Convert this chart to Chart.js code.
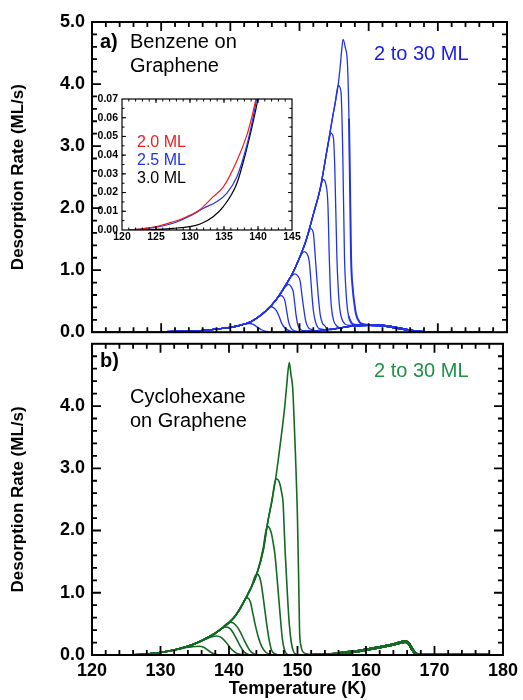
<!DOCTYPE html>
<html>
<head>
<meta charset="utf-8">
<script src="https://cdn.jsdelivr.net/npm/chart.js@4.4.1/dist/chart.umd.min.js"></script>
<style>
  body { margin: 0; background: #fff; overflow: hidden; }
  canvas { position: absolute; left: 0; }
</style>
</head>
<body>
<canvas id="top" width="523" height="350" style="top:0"></canvas>
<canvas id="bottom" width="523" height="374" style="top:326px"></canvas>
<canvas id="inset" width="225" height="160" style="left:80px;top:88px"></canvas>
<script>
// ---- benzene (panel a): common leading edge, each coverage's fall-off, monolayer tail
const benzeneEdgeT = [120, 124, 126, 128, 130, 132, 134, 136, 138, 139.5, 141, 142, 143, 144, 145, 146, 147, 148, 149, 150, 151, 152, 153, 154, 155, 155.6, 156.3];
const benzeneEdgeRate = [0, 0, 0.002, 0.005, 0.009, 0.013, 0.02, 0.03, 0.05, 0.07, 0.10, 0.13, 0.17, 0.24, 0.33, 0.44, 0.58, 0.76, 0.95, 1.2, 1.5, 1.9, 2.32, 2.95, 3.6, 3.99, 4.72];
const benzeneFalls = [
  [[141.6,0.115],[142.3,0.135],[142.8,0.14],[143.3,0.125],[144.0,0.074],[144.5,0.04],[145.0,0.018],[145.6,0.005],[146.5,0.002]],
  [[145.0,0.33],[145.5,0.39],[145.9,0.41],[146.3,0.39],[146.7,0.34],[147.1,0.24],[147.4,0.15],[147.8,0.08],[148.1,0.05],[148.6,0.02],[149.2,0.01]],
  [[146.6,0.52],[147.0,0.57],[147.35,0.59],[147.7,0.56],[147.9,0.5],[148.15,0.34],[148.4,0.18],[148.7,0.08],[149.1,0.03],[149.6,0.015]],
  [[147.7,0.70],[148.1,0.75],[148.45,0.77],[148.8,0.73],[149.1,0.65],[149.3,0.47],[149.5,0.28],[149.75,0.12],[150.1,0.05],[150.6,0.025]],
  [[148.6,0.87],[149.0,0.92],[149.35,0.94],[149.8,0.9],[150.1,0.82],[150.35,0.6],[150.6,0.39],[150.9,0.18],[151.3,0.07],[151.8,0.04]],
  [[149.9,1.17],[150.3,1.26],[150.7,1.30],[151.1,1.26],[151.4,1.15],[151.6,0.9],[151.8,0.6],[152.0,0.35],[152.3,0.17],[152.7,0.07],[153.2,0.05]],
  [[150.9,1.45],[151.3,1.6],[151.6,1.67],[152.0,1.60],[152.2,1.34],[152.45,0.95],[152.7,0.6],[153.0,0.28],[153.3,0.15],[153.7,0.1]],
  [[152.8,2.22],[153.2,2.4],[153.45,2.46],[153.8,2.39],[154.1,2.08],[154.3,1.23],[154.45,0.7],[154.6,0.42],[154.9,0.2],[155.4,0.1]],
  [[154.0,2.95],[154.3,3.12],[154.55,3.21],[154.9,3.13],[155.1,2.66],[155.4,1.23],[155.6,0.7],[155.8,0.4],[156.1,0.22],[156.6,0.13],[157.2,0.11]],
  [[155.1,3.65],[155.4,3.88],[155.6,3.98],[156.0,3.87],[156.25,2.92],[156.5,1.23],[156.7,0.7],[156.9,0.4],[157.1,0.26],[157.5,0.15],[158.0,0.12]],
  [[155.9,4.3],[156.1,4.55],[156.3,4.72],[156.6,4.6],[156.95,4.29],[157.15,3.45],[157.3,2.39],[157.45,1.23],[157.7,0.7],[157.95,0.45],[158.2,0.28],[158.7,0.16],[159.3,0.13]]
];
const benzeneTailT = [146, 148, 150, 152, 154, 156, 158, 160, 161.5, 162.5, 163.5, 164.5, 165.5, 166.5, 167.5, 168.5, 178];
const benzeneTailRate = [0, 0.004, 0.01, 0.02, 0.04, 0.07, 0.105, 0.115, 0.11, 0.1, 0.08, 0.06, 0.04, 0.02, 0.006, 0, 0];

// ---- cyclohexane (panel b)
const cycloEdgeT = [120, 124, 126, 128, 130, 132, 134, 136, 138, 139, 140, 141, 142, 143, 144, 145, 145.6, 146.3, 146.9, 147.5, 148.1, 148.8];
const cycloEdgeRate = [0, 0, 0.003, 0.015, 0.04, 0.08, 0.14, 0.23, 0.35, 0.43, 0.52, 0.64, 0.82, 1.03, 1.28, 1.68, 2.1, 2.5, 2.9, 3.4, 3.95, 4.70];
const cycloFalls = [
  [[133.2,0.11],[134.5,0.13],[135.6,0.14],[136.3,0.125],[136.9,0.08],[137.4,0.04],[138.0,0.01],[139.0,0]],
  [[136.5,0.25],[137.4,0.29],[138.2,0.305],[138.9,0.28],[139.6,0.2],[140.3,0.1],[141.0,0.035],[141.6,0.01],[142.5,0]],
  [[138.5,0.39],[139.1,0.44],[139.6,0.45],[140.2,0.42],[140.9,0.3],[141.6,0.15],[142.2,0.05],[142.8,0.01],[143.5,0]],
  [[139.3,0.47],[139.8,0.51],[140.25,0.525],[140.9,0.49],[141.6,0.38],[142.3,0.22],[143.0,0.08],[143.6,0.02],[144.3,0]],
  [[141.7,0.75],[142.2,0.87],[142.6,0.92],[143.1,0.86],[143.5,0.66],[143.8,0.5],[144.3,0.28],[144.8,0.13],[145.4,0.04],[146.0,0.01],[146.6,0]],
  [[143.3,1.1],[143.7,1.24],[144.1,1.30],[144.5,1.24],[144.8,1.08],[145.2,0.75],[145.5,0.5],[145.85,0.25],[146.2,0.08],[146.7,0.02],[147.3,0]],
  [[145.0,1.72],[145.35,1.97],[145.65,2.07],[145.95,2.03],[146.2,1.95],[146.45,1.8],[146.7,1.62],[147.1,1.13],[147.5,0.6],[147.8,0.25],[148.1,0.08],[148.5,0.01],[149.0,0]],
  [[146.3,2.5],[146.65,2.75],[146.9,2.83],[147.2,2.81],[147.45,2.74],[147.7,2.6],[147.9,2.44],[148.05,2.05],[148.2,1.66],[148.5,1.03],[148.8,0.5],[149.1,0.2],[149.4,0.06],[149.8,0.01],[150.3,0]],
  [[148.4,4.3],[148.8,4.70],[149.05,4.5],[149.3,4.29],[149.5,3.8],[149.7,3.23],[150.0,2.18],[150.2,1.03],[150.3,0.4],[150.5,0.15],[150.8,0.05],[151.3,0.02],[152.0,0.01]]
];
const cycloTailT = [150, 152, 154, 156, 158, 160, 162, 164, 165.7, 166.2, 166.7, 167.1, 167.5, 168, 178];
const cycloTailRate = [0, 0.005, 0.012, 0.028, 0.05, 0.085, 0.125, 0.17, 0.215, 0.19, 0.1, 0.04, 0.01, 0, 0];

// ---- inset: low temperature onset
const insetT20 = [121, 122, 125.1, 127.5, 129.5, 131.5, 133.4, 134.9, 136.9, 138.3, 139.1, 139.7, 140.3];
const insetRate20 = [0, 0.0003, 0.0018, 0.0044, 0.0071, 0.011, 0.0178, 0.023, 0.037, 0.050, 0.0605, 0.07, 0.08];
const insetT25 = [121, 122, 125, 127.5, 130, 132, 133.9, 135.4, 136.9, 138.3, 139.3, 139.8, 140.4];
const insetRate25 = [0, 0.0003, 0.0015, 0.0036, 0.0075, 0.0116, 0.0151, 0.0196, 0.0285, 0.0445, 0.0605, 0.07, 0.08];
const insetT30 = [121, 122, 125, 127.5, 130, 131.5, 133.4, 134.9, 136.9, 138.3, 139.3, 140.0, 140.5];
const insetRate30 = [0, 0, 0.0003, 0.0009, 0.0018, 0.0032, 0.0071, 0.0125, 0.025, 0.0428, 0.058, 0.07, 0.08];

const FONT = "'Liberation Sans', Arial, Helvetica, sans-serif";
Chart.defaults.font.family = FONT;
Chart.defaults.color = '#000';

const BLUE = '#2233e6', GREEN = '#136a22';

function joinCurve(edgeT, edgeR, fall, tailT, tailR) {
  const pts = [];
  const start = fall[0][0], end = fall[fall.length - 1][0];
  edgeT.forEach((t, i) => { if (t < start) pts.push({x: t, y: edgeR[i]}); });
  fall.forEach(p => pts.push({x: p[0], y: p[1]}));
  tailT.forEach((t, i) => { if (t > end) pts.push({x: t, y: tailR[i]}); });
  return pts;
}

function pairs(ts, rs) {
  return ts.map((t, i) => ({x: t, y: rs[i]}));
}

function lineSet(points, color, width, bandFrom, bandWidth) {
  return {
    data: points, borderColor: color, borderWidth: width,
    pointRadius: 0, fill: false, cubicInterpolationMode: 'monotone',
    segment: { borderWidth: c => c.p0.parsed.x >= bandFrom ? bandWidth : width }
  };
}

// tick values for one axis, from lo to hi in steps
function tickValues(lo, hi, step) {
  const out = [];
  const n = Math.round((hi - lo) / step);
  for (let i = 1; i < n; i++) out.push(lo + i * step);
  return out;
}

// frame + inward ticks on all four sides
function makeFrame(o) {
  return {
    id: 'frameTicks',
    afterDraw(chart) {
      const ctx = chart.ctx;
      const a = chart.chartArea;
      const xs = chart.scales.x, ys = chart.scales.y;
      ctx.save();
      ctx.strokeStyle = '#000';
      ctx.lineWidth = o.tickWidth;
      ctx.beginPath();
      [[o.xMinor, o.minorLen], [o.xMajor, o.majorLen]].forEach(([step, len]) => {
        tickValues(o.x[0], o.x[1], step).forEach(v => {
          const p = xs.getPixelForValue(v);
          ctx.moveTo(p, a.bottom); ctx.lineTo(p, a.bottom - len);
          ctx.moveTo(p, a.top); ctx.lineTo(p, a.top + len);
        });
      });
      [[o.yMinor, o.minorLen], [o.yMajor, o.majorLen]].forEach(([step, len]) => {
        tickValues(o.y[0], o.y[1], step).forEach(v => {
          const p = ys.getPixelForValue(v);
          ctx.moveTo(a.left, p); ctx.lineTo(a.left + len, p);
          ctx.moveTo(a.right, p); ctx.lineTo(a.right - len, p);
        });
      });
      ctx.stroke();
      ctx.lineWidth = o.frameWidth;
      ctx.strokeRect(a.left, a.top, a.right - a.left, a.bottom - a.top);
      ctx.restore();
    }
  };
}

function makeNotes(items) {
  return {
    id: 'notes',
    afterDraw(chart) {
      const ctx = chart.ctx;
      ctx.save();
      ctx.textBaseline = 'alphabetic';
      items.forEach(n => {
        ctx.font = (n.bold ? 'bold ' : '') + n.size + 'px ' + FONT;
        ctx.fillStyle = n.color || '#000';
        ctx.fillText(n.text, n.x, n.y);
      });
      ctx.restore();
    }
  };
}

const whiteArea = {
  id: 'whiteArea',
  beforeDraw(chart) {
    const {ctx, chartArea: a} = chart;
    ctx.save();
    ctx.fillStyle = '#fff';
    ctx.fillRect(a.left, a.top, a.width, a.height);
    ctx.restore();
  }
};

function yAxis(hideTop) {
  return {
    min: 0, max: 5,
    afterFit: s => { s.width = 92; },
    grid: {display: false, drawTicks: false},
    border: {display: false},
    ticks: {
      stepSize: 1, padding: 7, autoSkip: false,
      font: {size: 18, weight: 'bold'},
      callback: v => (hideTop && v === 5) ? '' : v.toFixed(1)
    },
    title: {
      display: true, text: 'Desorption Rate (ML/s)',
      font: {size: 17, weight: 'bold'}, padding: {top: 8, bottom: 0}
    }
  };
}

const mainFrame = {x: [120, 180], y: [0, 5], xMajor: 10, xMinor: 2, yMajor: 1, yMinor: 0.2, majorLen: 9, minorLen: 5, tickWidth: 1.8, frameWidth: 2};
const common = {
  responsive: false, animation: false, events: [],
  elements: {point: {radius: 0}}
};

new Chart(document.getElementById('top'), {
  type: 'line',
  data: {
    datasets: benzeneFalls.map(f =>
      lineSet(joinCurve(benzeneEdgeT, benzeneEdgeRate, f, benzeneTailT, benzeneTailRate), BLUE, 1.3, 157, 2))
  },
  options: Object.assign({}, common, {
    layout: {padding: {top: 22, right: 16, bottom: 12, left: 0}},
    scales: {
      x: {type: 'linear', min: 120, max: 180, display: false},
      y: yAxis(false)
    },
    plugins: {legend: {display: false}, tooltip: {enabled: false}}
  }),
  plugins: [makeFrame(mainFrame), makeNotes([
    {text: 'a)', x: 100, y: 48, size: 20, bold: true},
    {text: 'Benzene on', x: 130, y: 48, size: 20},
    {text: 'Graphene', x: 130, y: 72, size: 20},
    {text: '2 to 30 ML', x: 374, y: 60, size: 20, color: '#1a1aee'}
  ])]
});

new Chart(document.getElementById('bottom'), {
  type: 'line',
  data: {
    datasets: cycloFalls.map(f =>
      lineSet(joinCurve(cycloEdgeT, cycloEdgeRate, f, cycloTailT, cycloTailRate), GREEN, 1.6, 155, 2.6))
  },
  options: Object.assign({}, common, {
    layout: {padding: {top: 12, right: 16, bottom: 0, left: 0}},
    scales: {
      x: {
        type: 'linear', min: 120, max: 180,
        afterFit: s => { s.height = 45; },
        grid: {display: false, drawTicks: false},
        border: {display: false},
        ticks: {stepSize: 10, padding: 5, autoSkip: false, maxRotation: 0, font: {size: 18, weight: 'bold'}},
        title: {display: true, text: 'Temperature (K)', font: {size: 18, weight: 'bold'}, padding: {top: 0, bottom: 0}}
      },
      y: yAxis(true)
    },
    plugins: {legend: {display: false}, tooltip: {enabled: false}}
  }),
  plugins: [makeFrame(mainFrame), makeNotes([
    {text: 'b)', x: 100, y: 41, size: 20, bold: true},
    {text: '2 to 30 ML', x: 374, y: 51, size: 20, color: '#1f9147'},
    {text: 'Cyclohexane', x: 130, y: 77, size: 20},
    {text: 'on Graphene', x: 130, y: 101, size: 20}
  ])]
});

new Chart(document.getElementById('inset'), {
  type: 'line',
  data: {
    datasets: [
      lineSet(pairs(insetT20, insetRate20), '#ee1c1c', 1.2, 999, 1.2),
      lineSet(pairs(insetT25, insetRate25), '#2233e6', 1.2, 999, 1.2),
      lineSet(pairs(insetT30, insetRate30), '#000000', 1.2, 999, 1.2)
    ]
  },
  options: Object.assign({}, common, {
    layout: {padding: {top: 11, right: 13, bottom: 0, left: 0}},
    scales: {
      x: {
        type: 'linear', min: 120, max: 145,
        afterFit: s => { s.height = 18; },
        grid: {display: false, drawTicks: false},
        border: {display: false},
        ticks: {stepSize: 5, padding: 1, autoSkip: false, maxRotation: 0, font: {size: 10.5, weight: 'bold'}}
      },
      y: {
        min: 0, max: 0.07,
        afterFit: s => { s.width = 42; },
        grid: {display: false, drawTicks: false},
        border: {display: false},
        ticks: {stepSize: 0.01, padding: 4, autoSkip: false, font: {size: 10.5, weight: 'bold'}, callback: v => v.toFixed(2)}
      }
    },
    plugins: {legend: {display: false}, tooltip: {enabled: false}}
  }),
  plugins: [whiteArea, makeFrame({x: [120, 145], y: [0, 0.07], xMajor: 5, xMinor: 1, yMajor: 0.01, yMinor: 0.005, majorLen: 4, minorLen: 2.5, tickWidth: 1, frameWidth: 1.2}), makeNotes([
    {text: '2.0 ML', x: 57, y: 59, size: 16, color: '#ee1c1c'},
    {text: '2.5 ML', x: 57, y: 77, size: 16, color: '#2233e6'},
    {text: '3.0 ML', x: 57, y: 95, size: 16}
  ])]
});
</script>
</body>
</html>
